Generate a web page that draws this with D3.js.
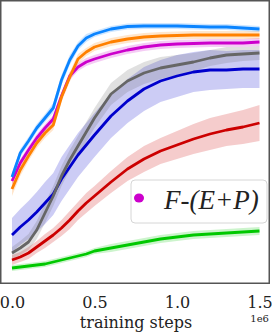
<!DOCTYPE html>
<meta charset="utf-8">
<style>
body { margin: 0; background: #fff; }
.tick text { font-family: "DejaVu Serif", serif; }
</style>
<body>
<script src="https://d3js.org/d3.v7.min.js"></script>
<script>
// training steps (x 1e6)
var steps = [0, .05, .1, .15, .2, .25, .3, .35, .4, .45, .5, .6, .7, .8, .9, 1.0, 1.1, 1.2, 1.3, 1.4, 1.5]

// mean scores per run
var blueMean    = [106, 130, 142, 155, 165, 175, 203, 223, 237, 245, 249, 254, 256.5, 257, 257, 257, 256.5, 256, 256, 255, 254]
var orangeMean  = [94, 113, 127, 140, 150, 158, 186, 206, 224, 231, 236, 241, 244, 246, 247, 247.5, 248, 248, 248, 248, 248]
var magentaMean = [102, 120, 133, 145, 155, 164, 187, 207, 216, 221, 224, 229, 233, 236, 238, 239, 239.5, 240, 240, 240, 241]
var grayMean    = [30, 35, 41, 53, 70, 87, 107, 123, 137, 151, 165, 189, 202, 210, 215, 218, 221, 225, 228, 229, 230]
var navyMean    = [48, 56, 63, 71, 80, 89, 104, 116, 128, 138, 148, 167, 182, 194, 202, 207, 211, 213, 213, 214, 214]
var redMean     = [23, 26, 30, 36, 42, 48, 55, 63, 72, 80, 87, 101, 114, 124, 132, 138, 144, 149, 153, 156, 160]
var greenMean   = [15, 16, 17, 18, 19, 21, 23, 25, 27, 29, 32, 35, 38, 41, 44, 46, 48, 49, 50, 51, 52]

// spread (half width of shaded band)
var blueSpread    = [4, 4, 4, 4, 4, 5, 5, 5, 4, 4, 3, 3, 3, 3, 3, 3, 3, 3, 3, 3, 3]
var orangeSpread  = [7, 6, 5, 5, 5, 5, 5, 5, 5, 4, 4, 4, 4, 4, 4, 4, 4, 4, 4, 4, 4]
var magentaSpread = [4, 4, 4, 4, 4, 4, 4, 4, 4, 4, 4, 4, 4, 4, 4, 4, 4, 4, 4, 4, 4]
var graySpread    = [6, 7, 8, 9, 10, 10, 10, 10, 10, 10, 10, 11, 11, 11, 11, 10, 9, 8, 8, 7, 7]
var navySpread    = [17, 18, 19, 20, 21, 21, 22, 22, 22, 22, 22, 22, 22, 22, 21, 21, 20, 20, 19, 19, 19]
var redSpread     = [5, 5, 6, 6, 7, 7, 8, 9, 9, 10, 10, 11, 12, 13, 13, 14, 15, 16, 16, 17, 18]
var greenSpread   = [3, 3, 3, 3, 3, 3, 3, 3, 3, 3, 3, 4, 4, 4, 4, 4, 4, 4, 4, 4, 4]

var xTicks = [0, 0.5, 1.0, 1.5]
var legendLabel = 'F-(E+P)'

var runs = [
    { mean: greenMean,   spread: greenSpread,   color: '#00c800' },
    { mean: redMean,     spread: redSpread,     color: '#cc0000' },
    { mean: navyMean,    spread: navySpread,    color: '#0000cc' },
    { mean: grayMean,    spread: graySpread,    color: '#666666' },
    { mean: magentaMean, spread: magentaSpread, color: '#cc00cc' },
    { mean: orangeMean,  spread: orangeSpread,  color: '#ff8000' },
    { mean: blueMean,    spread: blueSpread,    color: '#0a84ff' }
]

var width = 272
var height = 335
// plot frame (note: "top" would clash with window.top)
var frameLeft = 0.75, frameTop = 0.75, frameRight = 269.25, frameBottom = 283.25

var svg = d3.select('body').append('svg')
    .attr('width', width)
    .attr('height', height)

var x = d3.scaleLinear().domain([0, 1.5]).range([12, 259.5])
var y = d3.scaleLinear().domain([0, 282]).range([283, 1])

var area = d3.area()
    .x(function (d) { return x(d.s) })
    .y0(function (d) { return y(d.m - d.e) })
    .y1(function (d) { return y(d.m + d.e) })

var line = d3.line()
    .x(function (d) { return x(d.s) })
    .y(function (d) { return y(d.m) })

runs.forEach(function (r) {
    r.pts = steps.map(function (s, i) { return { s: s, m: r.mean[i], e: r.spread[i] } })
})

svg.append('g').selectAll('path')
    .data(runs)
    .enter().append('path')
    .attr('d', function (r) { return area(r.pts) })
    .attr('fill', function (r) { return r.color })
    .attr('fill-opacity', 0.2)

svg.append('g').selectAll('path')
    .data(runs)
    .enter().append('path')
    .attr('d', function (r) { return line(r.pts) })
    .attr('fill', 'none')
    .attr('stroke', function (r) { return r.color })
    .attr('stroke-width', 2.8)
    .attr('stroke-linejoin', 'round')

// frame
svg.append('rect')
    .attr('x', frameLeft).attr('y', frameTop)
    .attr('width', frameRight - frameLeft).attr('height', frameBottom - frameTop)
    .attr('fill', 'none')
    .attr('stroke', '#555')
    .attr('stroke-width', 1.5)

var xAxis = svg.append('g')
    .attr('transform', 'translate(0,' + frameBottom + ')')
    .call(d3.axisBottom(x).tickValues(xTicks).tickSize(0).tickPadding(13)
        .tickFormat(d3.format('.1f')))
xAxis.select('.domain').remove()
xAxis.selectAll('text')
    .attr('font-size', 16)
    .attr('fill', '#222')

svg.append('text')
    .attr('x', 136).attr('y', 328)
    .attr('text-anchor', 'middle')
    .attr('font-family', 'DejaVu Serif, serif')
    .attr('font-size', 16)
    .attr('fill', '#222')
    .text('training steps')

svg.append('text')
    .attr('x', 269).attr('y', 322)
    .attr('text-anchor', 'end')
    .attr('font-family', 'DejaVu Serif, serif')
    .attr('font-size', 10)
    .attr('fill', '#222')
    .text('1e6')

// legend
svg.append('rect')
    .attr('x', 131).attr('y', 180)
    .attr('width', 136).attr('height', 43)
    .attr('rx', 4)
    .attr('fill', '#fff').attr('fill-opacity', 0.8)
    .attr('stroke', '#d6d6d6')
svg.append('ellipse')
    .attr('cx', 139).attr('cy', 198)
    .attr('rx', 5).attr('ry', 4.5)
    .attr('fill', '#cc00cc')
svg.append('text')
    .attr('x', 164).attr('y', 209)
    .attr('font-family', 'Liberation Serif, serif')
    .attr('font-style', 'italic')
    .attr('font-size', 27)
    .attr('fill', '#222')
    .text(legendLabel)
</script>
</body>
